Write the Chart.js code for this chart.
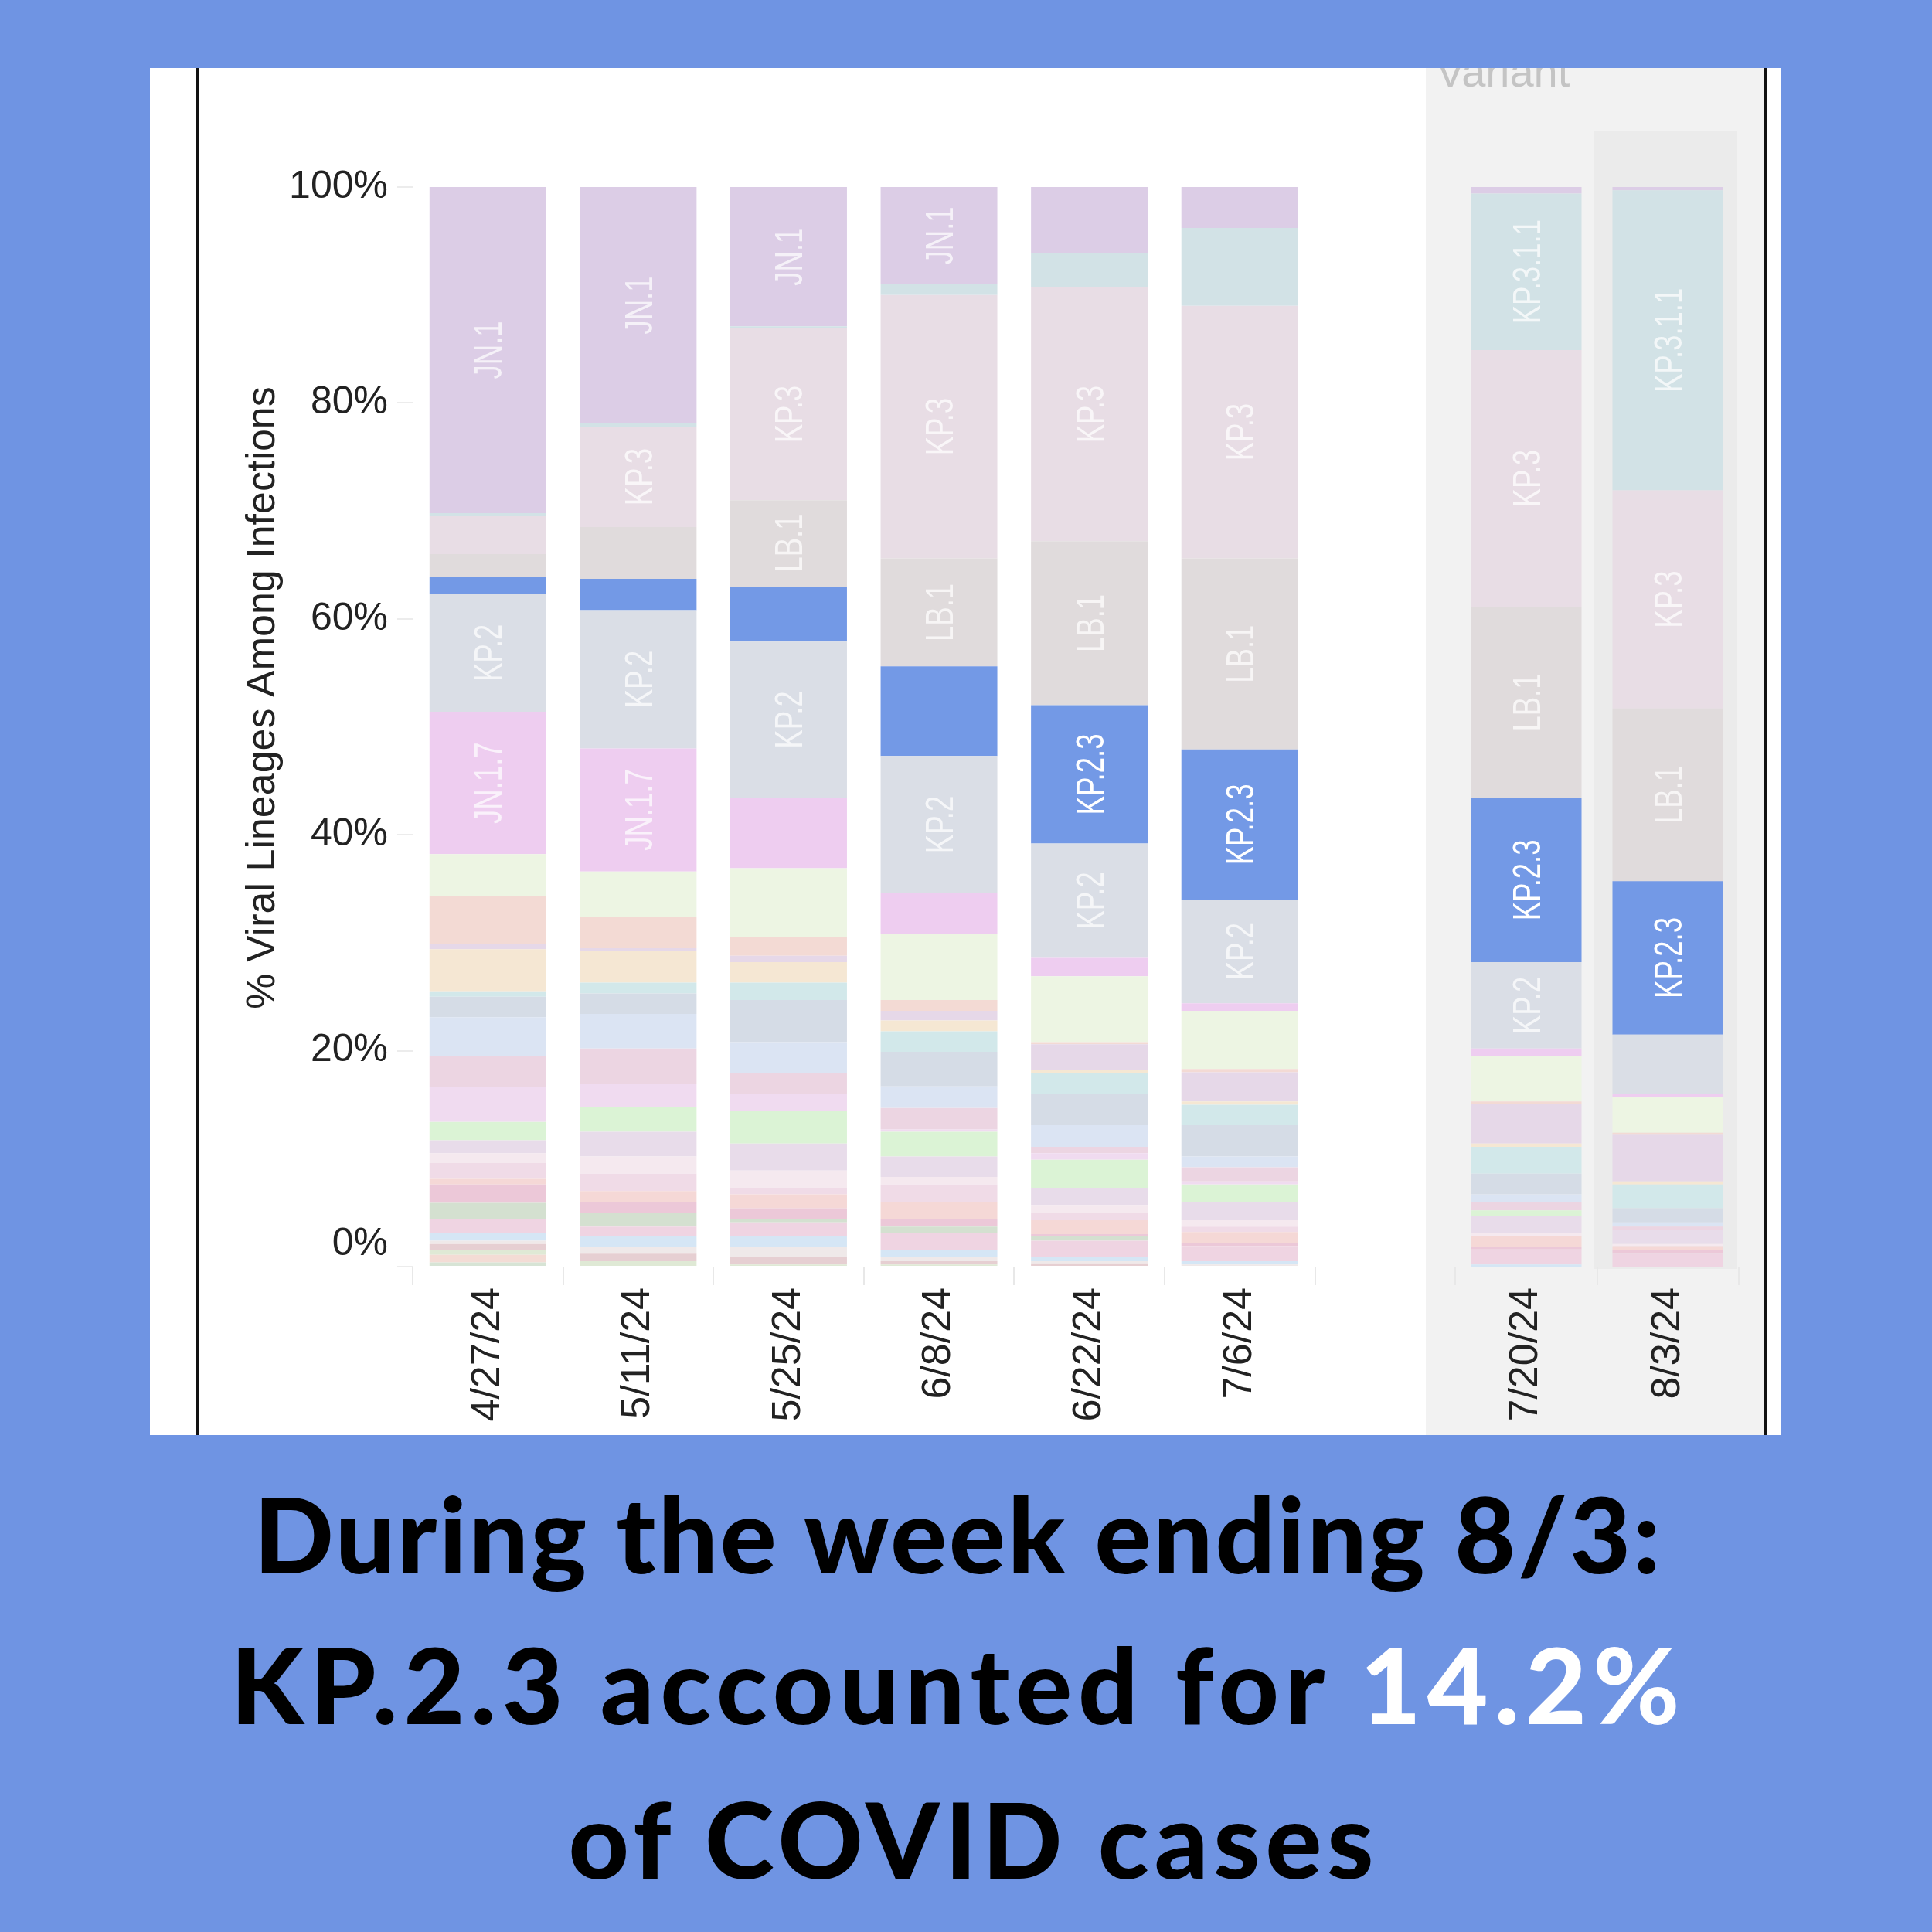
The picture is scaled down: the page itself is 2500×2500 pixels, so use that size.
<!DOCTYPE html>
<html>
<head>
<meta charset="utf-8">
<script src="https://cdn.jsdelivr.net/npm/chart.js@4.4.1/dist/chart.umd.min.js"></script>
<style>
  html, body { margin: 0; padding: 0; }
  body { width: 2500px; height: 2500px; background: #6f94e3; position: relative; overflow: hidden; }
  #panel { position: absolute; left: 194px; top: 88px; width: 2111px; height: 1769px; background: #fff; }
  #facet { position: absolute; left: 1845px; top: 88px; width: 440px; height: 1769px; background: #f2f2f2; }
  #hover { position: absolute; left: 2063px; top: 169px; width: 185px; height: 1473px; background: #ebebeb; }
  .rule { position: absolute; top: 88px; width: 4px; height: 1769px; background: #111; }
  #left { position: absolute; left: 255px; top: 88px; }
  #right { position: absolute; left: 1845px; top: 88px; }
  .cap { position: absolute; left: 0; width: 2480px; text-align: center; font-family: Lato, sans-serif;
         font-weight: 900; font-size: 136px; letter-spacing: 3px; line-height: 1.2; color: #000; white-space: nowrap; }
  .cap span { color: #fff; }
</style>
</head>
<body>
<div id="panel"></div>
<div id="facet"></div>
<div id="hover"></div>
<div class="rule" style="left:253px"></div>
<div class="rule" style="left:2282px"></div>
<canvas id="left" width="1590" height="1769"></canvas>
<canvas id="right" width="440" height="1769"></canvas>
<div class="cap" style="top:1902px">During the week ending 8/3:</div>
<div class="cap" style="top:2097px; letter-spacing:8px">KP.2.3 accounted for <span>14.2%</span></div>
<div class="cap" style="top:2297px; letter-spacing:7px; left:20px">of COVID cases</div>

<script>
const weeks = ['4/27/24', '5/11/24', '5/25/24', '6/8/24', '6/22/24', '7/6/24', '7/20/24', '8/3/24'];
const yTicks = [0, 20, 40, 60, 80, 100];

// main lineages, % of infections per week
const jn1     = [30.2, 21.9, 12.9,  9.0,  6.1,  3.8,  0.6,  0.3];
const kp311   = [ 0.3,  0.3,  0.2,  1.0,  3.2,  7.2, 14.5, 27.8];
const kp3     = [ 3.5,  9.3, 15.9, 24.4, 23.5, 23.4, 23.8, 20.2];
const lb1     = [ 2.1,  4.8,  8.0, 10.0, 15.2, 17.7, 17.7, 16.0];
const kp23    = [ 1.6,  2.9,  5.1,  8.3, 12.8, 13.9, 15.2, 14.2];
const kp2     = [10.9, 12.8, 14.5, 12.7, 10.6,  9.6,  8.0,  5.5];
const jn17    = [13.2, 11.4,  6.5,  3.8,  1.7,  0.7,  0.7,  0.3];

// small lineages under JN.1.7, top of the stack first
const other01 = [3.9, 4.2, 6.4, 6.1, 6.1, 5.4, 4.2, 3.3];
const other02 = [4.4, 2.9, 1.7, 1.0, 0.2, 0.3, 0.2, 0.2];
const other03 = [0.5, 0.3, 0.6, 0.9, 2.4, 2.7, 3.7, 4.3];
const other04 = [3.9, 2.9, 1.9, 1.0, 0.3, 0.3, 0.3, 0.3];
const other05 = [0.5, 1.0, 1.6, 1.9, 1.9, 1.9, 2.5, 2.2];
const other06 = [1.9, 1.9, 3.9, 3.2, 2.9, 2.9, 1.9, 1.3];
const other07 = [3.6, 3.2, 2.9, 2.0, 2.0, 1.0, 0.7, 0.4];
const other08 = [2.9, 3.3, 1.9, 2.0, 0.6, 1.3, 0.8, 0.3];
const other09 = [3.2, 2.1, 1.6, 0.2, 0.6, 0.3, 0.0, 0.0];
const other10 = [1.7, 2.3, 3.0, 2.3, 2.6, 1.6, 0.5, 0.0];
const other11 = [1.2, 2.3, 2.5, 1.9, 1.6, 1.7, 1.6, 1.3];
const other12 = [0.9, 1.6, 1.6, 0.7, 0.7, 0.6, 0.3, 0.2];
const other13 = [1.4, 1.6, 0.6, 1.6, 0.7, 0.5, 0.0, 0.0];
const other14 = [0.6, 1.0, 1.3, 1.6, 1.3, 1.0, 1.0, 0.4];
const other15 = [1.7, 1.0, 1.0, 0.7, 0.2, 0.3, 0.2, 0.3];
const other16 = [1.5, 1.3, 0.3, 0.6, 0.4, 0.0, 0.0, 0.0];
const other17 = [1.3, 0.9, 1.3, 1.6, 1.5, 1.4, 1.4, 1.2];
const other18 = [0.7, 1.0, 1.0, 0.6, 0.4, 0.3, 0.2, 0.0];
const other19 = [0.3, 0.6, 0.9, 0.4, 0.2, 0.2, 0.0, 0.0];
const other20 = [0.6, 0.7, 0.7, 0.3, 0.3, 0.0, 0.0, 0.0];
const other21 = [0.4, 0.5, 0.2, 0.2, 0.0, 0.0, 0.0, 0.0];
const other22 = [0.7, 0.0, 0.0, 0.0, 0.0, 0.0, 0.0, 0.0];
const other23 = [0.4, 0.0, 0.0, 0.0, 0.0, 0.0, 0.0, 0.0];

const others = [other01, other02, other03, other04, other05, other06, other07, other08,
  other09, other10, other11, other12, other13, other14, other15, other16,
  other17, other18, other19, other20, other21, other22, other23];
const otherColors = ['#edf5e3', '#f3dad4', '#e6d8e8', '#f5e7d3', '#d2e8ea', '#d5dce6', '#dbe4f3', '#ecd5e2',
  '#f0dbf0', '#dbf3d5', '#e8dcea', '#f5e9ef', '#f0dbe7', '#f5d8d6', '#ecc8d8', '#d4e0d0',
  '#efd4e2', '#d5e6f5', '#efe9e9', '#e6cfd2', '#dfe9d5', '#f3dcd5', '#d7e4d5'];

// bottom to top
const named = [
  { label: 'JN.1.7',   data: jn17,  color: '#eecdf0' },
  { label: 'KP.2',     data: kp2,   color: '#dadee6' },
  { label: 'KP.2.3',   data: kp23,  color: '#7399e6' },
  { label: 'LB.1',     data: lb1,   color: '#e0dbdc' },
  { label: 'KP.3',     data: kp3,   color: '#e8dde5' },
  { label: 'KP.3.1.1', data: kp311, color: '#d2e2e6' },
  { label: 'JN.1',     data: jn1,   color: '#dccde6' },
];

function buildDatasets(from, to, barPct) {
  const sets = [];
  // small lineages go at the bottom, last one first
  for (let i = others.length - 1; i >= 0; i--) {
    sets.push({
      label: 'other ' + (i + 1),
      data: others[i].slice(from, to),
      backgroundColor: otherColors[i],
      borderWidth: 0,
      barPercentage: barPct,
      categoryPercentage: 1,
    });
  }
  named.forEach(n => {
    sets.push({
      label: n.label,
      data: n.data.slice(from, to),
      backgroundColor: n.color,
      borderWidth: 0,
      barPercentage: barPct,
      categoryPercentage: 1,
      inBarLabel: true,
      labelColor: n.label === 'KP.2.3' ? '#ffffff' : 'rgba(255,255,255,0.72)',
    });
  });
  return sets;
}

// lineage names written inside the bars, only where they fit
const segmentLabels = {
  id: 'segmentLabels',
  afterDatasetsDraw(chart) {
    const ctx = chart.ctx;
    chart.data.datasets.forEach((ds, i) => {
      if (!ds.inBarLabel) return;
      chart.getDatasetMeta(i).data.forEach(bar => {
        const h = bar.base - bar.y;
        ctx.save();
        ctx.font = '50px "Liberation Sans", Arial, sans-serif';
        const len = ctx.measureText(ds.label).width * 0.73;
        if (len + 20 <= h) {
          ctx.translate(bar.x, (bar.y + bar.base) / 2);
          ctx.rotate(-Math.PI / 2);
          ctx.scale(0.73, 1);
          ctx.fillStyle = ds.labelColor;
          ctx.textAlign = 'center';
          ctx.textBaseline = 'alphabetic';
          ctx.fillText(ds.label, 0, 18);
        }
        ctx.restore();
      });
    });
  }
};

// y tick labels and axis title (0% sits a little above its tick, like the original)
const yAxisText = {
  id: 'yAxisText',
  afterDraw(chart) {
    const ctx = chart.ctx;
    const y = chart.scales.y;
    ctx.save();
    ctx.font = '50px "Liberation Sans", Arial, sans-serif';
    ctx.fillStyle = '#222';
    ctx.textAlign = 'right';
    ctx.textBaseline = 'middle';
    yTicks.forEach(v => {
      let py = y.getPixelForValue(v);
      if (v === 0) py -= 29;
      ctx.fillText(v + '%', 247, py);
    });
    ctx.translate(86, 815);
    ctx.rotate(-Math.PI / 2);
    ctx.textAlign = 'center';
    ctx.font = '52px "Liberation Sans", Arial, sans-serif';
    ctx.fillText('% Viral Lineages Among Infections', 0, 0);
    ctx.restore();
  }
};

// legend heading that is cut off by the top of the panel
const variantHeading = {
  id: 'variantHeading',
  afterDraw(chart) {
    const ctx = chart.ctx;
    ctx.save();
    ctx.font = '56px "Liberation Sans", Arial, sans-serif';
    ctx.fillStyle = '#c4c4c4';
    ctx.textBaseline = 'alphabetic';
    ctx.fillText('Variant', 13, 24);
    ctx.restore();
  }
};

function makeOptions(padding, showY) {
  const yScale = {
    stacked: true,
    display: showY,
    min: 0,
    max: 100,
    ticks: { display: false, stepSize: 20 },
    grid: { drawOnChartArea: false, tickLength: 20, tickColor: '#ececec', lineWidth: 2 },
    border: { display: false }
  };
  if (showY) yScale.afterFit = s => { s.width = 279; };
  return {
    responsive: false,
    animation: false,
    devicePixelRatio: 1,
    layout: { padding: padding },
    plugins: { legend: { display: false }, tooltip: { enabled: false } },
    scales: {
      x: {
        stacked: true,
        grid: { offset: true, drawOnChartArea: false, tickLength: 24, tickColor: '#e8e8e8', lineWidth: 2 },
        border: { display: false },
        ticks: {
          autoSkip: false, minRotation: 90, maxRotation: 90, padding: 3, color: '#222',
          font: { family: '"Liberation Sans", Arial, sans-serif', size: 52 }
        },
        afterFit: s => { s.height = 218; }
      },
      y: yScale
    }
  };
}

new Chart(document.getElementById('left'), {
  type: 'bar',
  data: { labels: weeks.slice(0, 6), datasets: buildDatasets(0, 6, 0.776) },
  options: makeOptions({ top: 154, right: 143.5, bottom: 0, left: 0 }, true),
  plugins: [segmentLabels, yAxisText]
});

new Chart(document.getElementById('right'), {
  type: 'bar',
  data: { labels: weeks.slice(6), datasets: buildDatasets(6, 8, 0.782) },
  options: makeOptions({ top: 154, right: 35, bottom: 0, left: 38 }, false),
  plugins: [segmentLabels, variantHeading]
});
</script>
</body>
</html>
